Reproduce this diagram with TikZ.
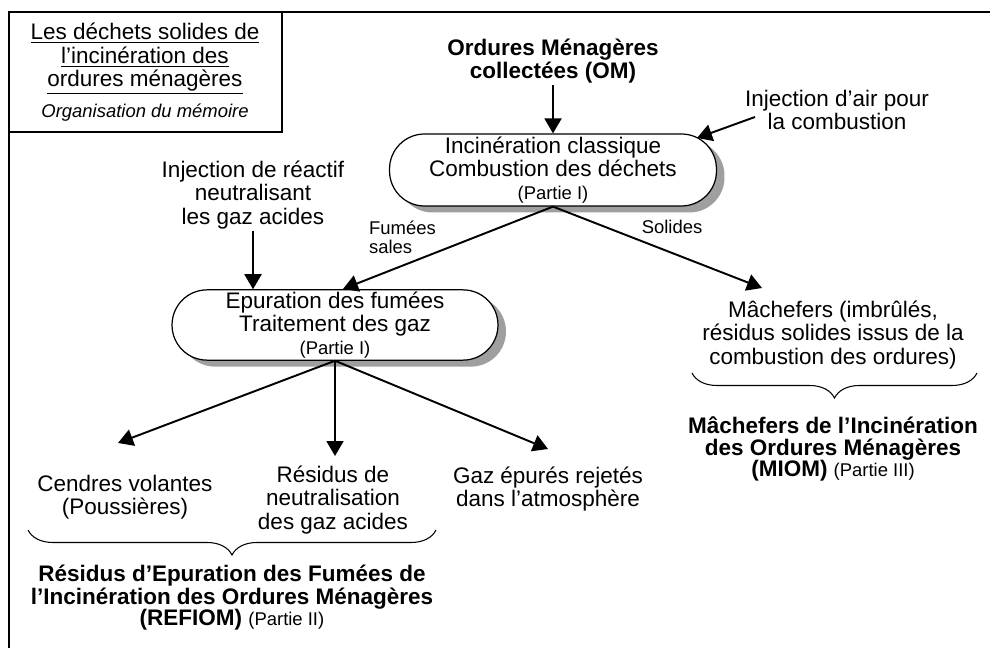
\documentclass[tikz,border=0pt]{standalone}
\usepackage{fontspec}
\setmainfont{Liberation Sans}
\usepackage{tikz}
\usetikzlibrary{arrows.meta,shadows,decorations.pathreplacing,positioning}
\newcommand{\txtsz}{\fontsize{12.8}{13.2}\selectfont}
\newcommand{\grassz}{\fontsize{12.8}{12}\selectfont\bfseries}
\newcommand{\petitsz}{\fontsize{10.5}{11}\selectfont}

\begin{document}
\begin{tikzpicture}[x=0.02cm,y=-0.02cm,
    lbl/.style={font=\txtsz,align=center,inner sep=1pt},
    gras/.style={font=\grassz,align=center,inner sep=1pt},
    petit/.style={font=\petitsz,align=center,inner sep=1pt},
    etape/.style={lbl,draw,line width=0.7pt,fill=white,rounded corners=0.7cm,
        minimum width=6.54cm,minimum height=1.44cm,
        drop shadow={shadow xshift=0.16cm,shadow yshift=-0.13cm,fill=gray!75,opacity=1}},
    fleche/.style={line width=1.1pt,-{Triangle[length=0.3cm,width=0.34cm]}},
    accolade/.style={line width=0.6pt,decorate,decoration={brace,mirror,amplitude=0.5cm}}]
    \useasboundingbox (0,0) rectangle (990,648);

    % Cadre et titre
    \draw[line width=0.9pt] (990,12) -- (9,12) -- (9,648);
    \draw[line width=0.9pt] (9,132) -- (282,132) -- (282,12);
    \node[lbl] (titre) at (145,59) {\underline{Les déchets solides de}\\\underline{l’incinération des}\\\underline{ordures ménagères}};
    \node[petit,font=\petitsz\itshape] (memoire) at (145,113) {Organisation du mémoire};

    % Incineration
    \node[gras] (om) at (553,61) {Ordures Ménagères\\collectées (OM)};
    \node[etape] (comb) at (553,170) {Incinération classique\\Combustion des déchets\\{\petitsz (Partie I)}};
    \node[lbl] (air) at (837,110) {Injection d’air pour\\la combustion};
    \coordinate (airdep) at (755,117);
    \coordinate (airarr) at (697,138);

    % Epuration des fumees
    \node[lbl] (inj) at (253,195) {Injection de réactif\\neutralisant\\les gaz acides};
    \node[etape,minimum width=6.52cm,minimum height=1.4cm] (epur) at (335,325) {Epuration des fumées\\Traitement des gaz\\{\petitsz (Partie I)}};
    \node[petit,align=left,anchor=west] (fumees) at (367,237) {Fumées\\sales};
    \node[petit] (solides) at (672,227) {Solides};
    \coordinate (fumtip) at (343,289);
    \coordinate (soltip) at (762,288);

    % Machefers
    \node[lbl] (mach) at (833,335) {Mâchefers (imbrûlés,\\résidus solides issus de la\\combustion des ordures)};
    \node[gras] (miom) at (833,449) {Mâchefers de l’Incinération\\des Ordures Ménagères\\(MIOM) {\mdseries\petitsz (Partie III)}};

    % Residus de l'epuration
    \node[lbl] (cendres) at (125,497) {Cendres volantes\\(Poussières)};
    \node[lbl] (resneut) at (333,500) {Résidus de\\neutralisation\\des gaz acides};
    \node[lbl] (gaz) at (548,489) {Gaz épurés rejetés\\dans l’atmosphère};
    \node[gras] (refiom) at (232,598) {Résidus d’Epuration des Fumées de\\l’Incinération des Ordures Ménagères\\(REFIOM) {\mdseries\petitsz (Partie II)}};
    \coordinate (t1) at (118,443);
    \coordinate (t2) at (335,456);
    \coordinate (t3) at (548,449);

    % Fleches
    \draw[fleche] (om.south) -- (comb.north);
    \draw[fleche] (airdep) -- (airarr);
    \draw[fleche] (inj.south) -- (inj.south |- epur.north);
    \draw[fleche] (comb.south) -- (fumtip);
    \draw[fleche] (comb.south) -- (soltip);
    \draw[fleche] (epur.south) -- (t1);
    \draw[fleche] (epur.south) -- (t2);
    \draw[fleche] (epur.south) -- (t3);

    % Accolades
    \draw[accolade] (28,530) -- (436,530);
    \draw[accolade] (692,373) -- (977,373);
\end{tikzpicture}
\end{document}
